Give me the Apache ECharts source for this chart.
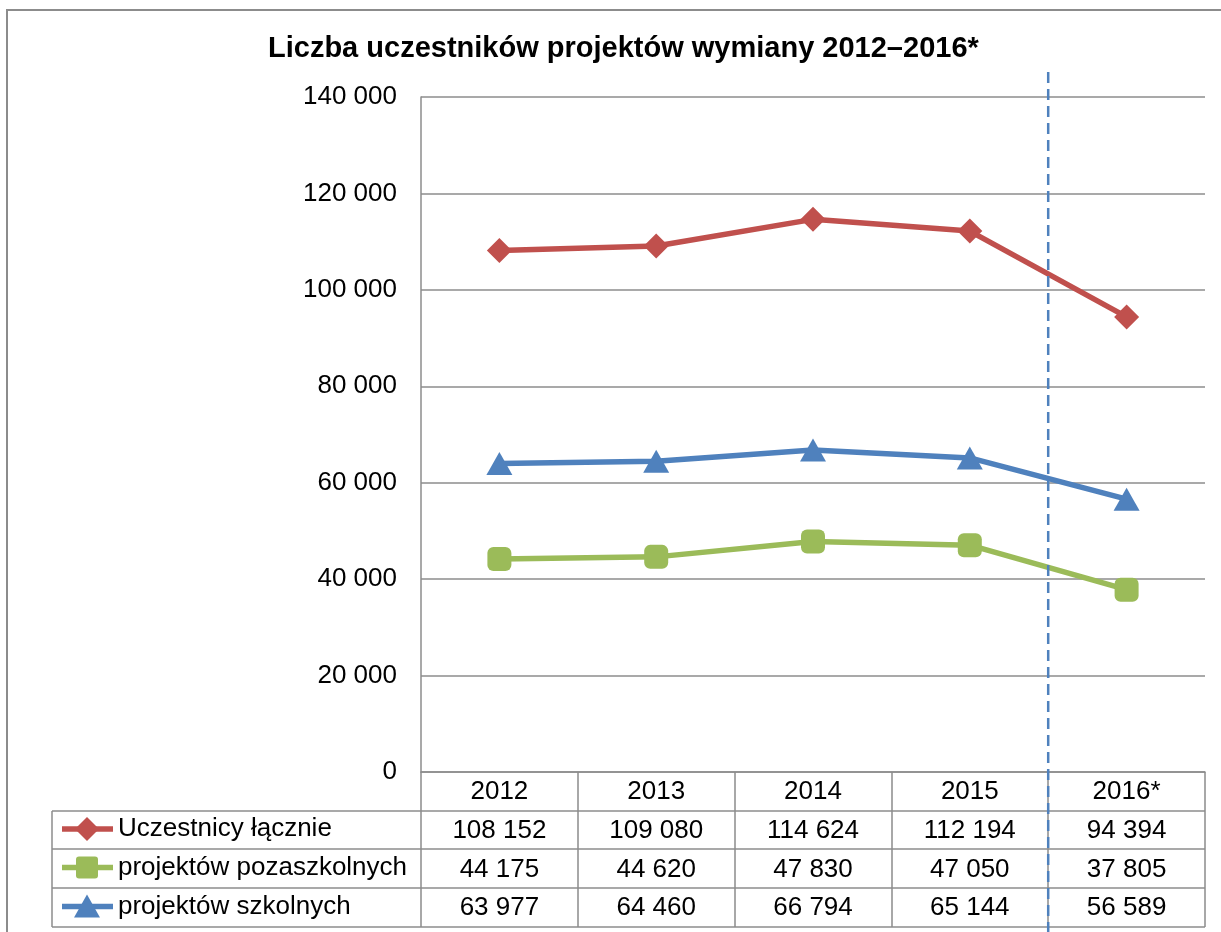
<!DOCTYPE html>
<html>
<head>
<meta charset="utf-8">
<script src="https://cdn.jsdelivr.net/npm/echarts@6/dist/echarts.min.js"></script>
<style>
  html, body { margin: 0; padding: 0; background: #fff; }
  #main { width: 1221px; height: 932px; }
</style>
</head>
<body>
<div id="main"></div>
<script>
// dane z wykresu
var years = ['2012', '2013', '2014', '2015', '2016*'];
var seriesNames = ['Uczestnicy łącznie', 'projektów pozaszkolnych', 'projektów szkolnych'];
var lacznie = [108152, 109080, 114624, 112194, 94394];
var pozaszkolne = [44175, 44620, 47830, 47050, 37805];
var szkolne = [63977, 64460, 66794, 65144, 56589];
var yTicks = [0, 20000, 40000, 60000, 80000, 100000, 120000, 140000];
var colors = ['#C0504D', '#9BBB59', '#4F81BD'];

var FONT = '"Liberation Sans", Arial, sans-serif';
var GRID_COLOR = '#8c8c8c';
var FS = 26;

function fmt(v) {
  return String(v).replace(/\B(?=(\d{3})+(?!\d))/g, ' ');
}

function rowAxis(values, offset) {
  return {
    type: 'category',
    data: years,
    position: 'bottom',
    offset: offset,
    axisLine: { show: false },
    axisTick: { show: false },
    axisLabel: {
      interval: 0,
      margin: 20,
      verticalAlign: 'middle',
      fontSize: FS,
      fontFamily: FONT,
      color: '#000',
      formatter: function (val, idx) { return fmt(values[idx]); }
    }
  };
}

var chart = echarts.init(document.getElementById('main'));

var option = {
  animation: false,
  backgroundColor: '#fff',
  title: {
    text: 'Liczba uczestników projektów wymiany 2012–2016*',
    left: 263,
    top: 29,
    textStyle: { fontSize: 29, fontWeight: 'bold', fontFamily: FONT, color: '#000' }
  },
  grid: { left: 421, right: 16, top: 97, bottom: 160 },
  xAxis: [
    {
      type: 'category',
      data: years,
      boundaryGap: true,
      axisLine: { lineStyle: { color: GRID_COLOR, width: 1.5 } },
      axisTick: { show: true, interval: 0, length: 155, lineStyle: { color: GRID_COLOR, width: 1.5 } },
      axisLabel: {
        interval: 0, margin: 20, verticalAlign: 'middle',
        fontSize: FS, fontFamily: FONT, color: '#000'
      }
    },
    rowAxis(lacznie, 39),
    rowAxis(pozaszkolne, 78),
    rowAxis(szkolne, 116)
  ],
  yAxis: {
    type: 'value',
    min: yTicks[0],
    max: yTicks[yTicks.length - 1],
    interval: 20000,
    axisLine: { show: true, lineStyle: { color: GRID_COLOR, width: 1.5 } },
    axisTick: { show: false },
    splitLine: { lineStyle: { color: GRID_COLOR, width: 1.5 } },
    axisLabel: {
      margin: 24, fontSize: FS, fontFamily: FONT, color: '#000',
      formatter: function (v) { return fmt(v); }
    }
  },
  series: [
    {
      name: seriesNames[0],
      type: 'line',
      data: lacznie,
      symbol: 'diamond',
      symbolSize: 25,
      lineStyle: { color: colors[0], width: 5.5 },
      itemStyle: { color: colors[0] }
    },
    {
      name: seriesNames[1],
      type: 'line',
      data: pozaszkolne,
      symbol: 'roundRect',
      symbolSize: 24,
      lineStyle: { color: colors[1], width: 5.5 },
      itemStyle: { color: colors[1] }
    },
    {
      name: seriesNames[2],
      type: 'line',
      data: szkolne,
      symbol: 'triangle',
      symbolSize: [26, 23],
      lineStyle: { color: colors[2], width: 5.5 },
      itemStyle: { color: colors[2] }
    }
  ]
};

chart.setOption(option);

// ramka, linie tabeli, legenda w tabeli i przerywana linia 2015/2016
var x3 = chart.convertToPixel({ xAxisIndex: 0 }, 3);
var x4 = chart.convertToPixel({ xAxisIndex: 0 }, 4);
var xSplit = (x3 + x4) / 2;
var tableRight = 1205;
var lineStyle = { stroke: GRID_COLOR, lineWidth: 1.5 };
var rowsY = [811, 849, 888, 927];
var graphics = [
  { type: 'rect', shape: { x: 7, y: 10, width: 1240, height: 960 }, style: { fill: 'none', stroke: GRID_COLOR, lineWidth: 2 }, silent: true },
  { type: 'line', shape: { x1: 52, y1: rowsY[0], x2: 52, y2: rowsY[3] }, style: lineStyle, silent: true }
];
rowsY.forEach(function (y) {
  graphics.push({ type: 'line', shape: { x1: 52, y1: y, x2: tableRight, y2: y }, style: lineStyle, silent: true });
});

seriesNames.forEach(function (name, i) {
  var cy = (rowsY[i] + rowsY[i + 1]) / 2 - 1;
  var cx = 87;
  var c = colors[i];
  graphics.push({ type: 'line', shape: { x1: 62, y1: cy, x2: 113, y2: cy }, style: { stroke: c, lineWidth: 5.5 }, silent: true });
  if (i === 0) {
    graphics.push({ type: 'polygon', shape: { points: [[cx, cy - 12], [cx + 12, cy], [cx, cy + 12], [cx - 12, cy]] }, style: { fill: c }, silent: true });
  } else if (i === 1) {
    graphics.push({ type: 'rect', shape: { x: cx - 11, y: cy - 11, width: 22, height: 22, r: 3 }, style: { fill: c }, silent: true });
  } else {
    graphics.push({ type: 'polygon', shape: { points: [[cx, cy - 12], [cx + 13, cy + 11], [cx - 13, cy + 11]] }, style: { fill: c }, silent: true });
  }
  graphics.push({
    type: 'text', x: 118, y: cy,
    style: { text: name, fontSize: FS, fontFamily: FONT, fill: '#000', verticalAlign: 'middle', align: 'left' },
    silent: true
  });
});

graphics.push({
  type: 'line',
  shape: { x1: xSplit, y1: 72, x2: xSplit, y2: 932 },
  style: { stroke: '#4F81BD', lineWidth: 2.5, lineDash: [11, 6] },
  silent: true,
  z: 100
});
chart.setOption({ graphic: graphics });
</script>
</body>
</html>
